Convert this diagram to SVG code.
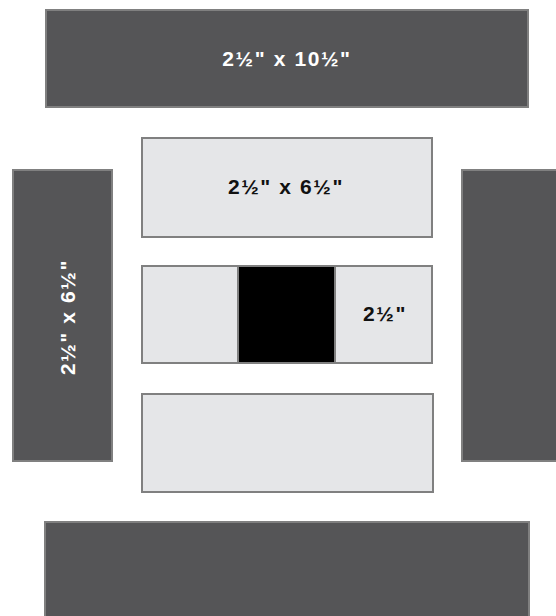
<svg xmlns="http://www.w3.org/2000/svg" width="556" height="616" viewBox="0 0 556 616">
<style>
.dark{fill:#555557;stroke:#808080;stroke-width:2}
.light{fill:#e5e6e8;stroke:#808080;stroke-width:2}
.blk{fill:#000;stroke:#808080;stroke-width:2}
.t{font-family:"Liberation Sans",Arial,sans-serif;font-weight:bold;font-size:21px;letter-spacing:1.6px;text-anchor:middle}
.w{fill:#fff}
.k{fill:#111}
</style>
<rect width="556" height="616" fill="#fff"/>
<g id="top"><rect class="dark" x="46" y="10" width="482" height="97"/><text class="t w" x="287" y="66">2½" x 10½"</text></g>
<g id="left"><rect class="dark" x="13" y="170" width="99" height="291"/><text class="t w" transform="translate(75,317) rotate(-90)">2½" x 6½"</text></g>
<g id="right"><rect class="dark" x="462" y="170" width="100" height="291"/></g>
<g id="mid-top"><rect class="light" x="142" y="138" width="290" height="99"/><text class="t k" x="286" y="194">2½" x 6½"</text></g>
<g id="mid-left"><rect class="light" x="142" y="266" width="96" height="97"/></g>
<g id="center"><rect class="blk" x="238" y="266" width="97" height="97"/></g>
<g id="mid-right"><rect class="light" x="335" y="266" width="97" height="97"/><text class="t k" x="385" y="321">2½"</text></g>
<g id="mid-bottom"><rect class="light" x="142" y="394" width="291" height="98"/></g>
<g id="bottom"><rect class="dark" x="45" y="522" width="484" height="110"/></g>
<g id="connectors"/>
</svg>
